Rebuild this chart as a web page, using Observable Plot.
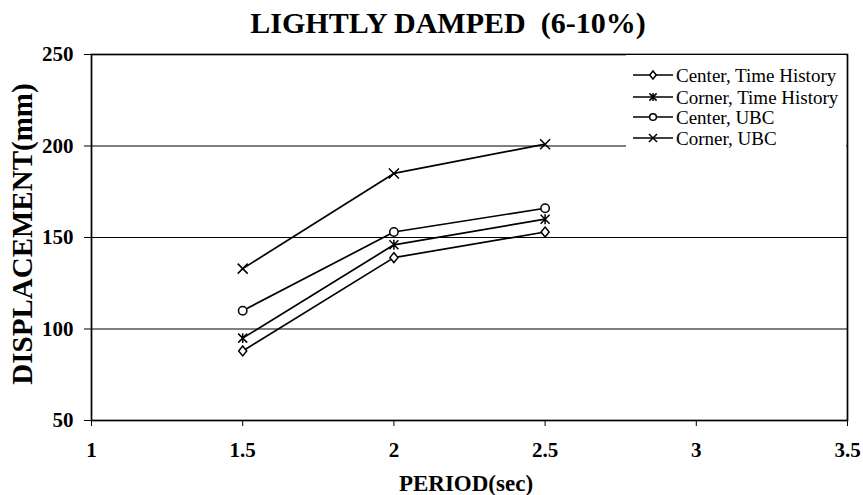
<!DOCTYPE html>
<html><head><meta charset="utf-8">
<script src="https://cdn.jsdelivr.net/npm/d3@7"></script>
<script src="https://cdn.jsdelivr.net/npm/@observablehq/plot@0.6"></script>
<style>body{margin:0;background:#fff} #chart{width:863px;height:495px}</style>
</head><body><div id="chart"></div>
<script>
// ---- data ----
const periods = [1.5, 2, 2.5];
const seriesNames = ["Center, Time History", "Corner, Time History", "Center, UBC", "Corner, UBC"];
const centerTimeHistory = [88, 139, 153];
const cornerTimeHistory = [95, 146, 160];
const centerUBC = [110, 153, 166];
const cornerUBC = [133, 185, 201];
const xTicks = [1, 1.5, 2, 2.5, 3, 3.5];
const yTicks = [50, 100, 150, 200, 250];
const gridValues = [100, 150, 200];
const titleText = "LIGHTLY DAMPED  (6-10%)";
const xLabel = "PERIOD(sec)";
const yLabel = "DISPLACEMENT(mm)";

const seriesValues = [centerTimeHistory, cornerTimeHistory, centerUBC, cornerUBC];
const data = [];
seriesNames.forEach((name, i) => periods.forEach((p, j) => data.push({series: name, period: p, value: seriesValues[i][j]})));

// ---- custom Excel-like symbols ----
const rad = s => Math.sqrt(s / Math.PI);
const symDiamond = {draw(c, s) { const r = rad(s); c.moveTo(0, -r * 1.1); c.lineTo(r * 0.9, 0); c.lineTo(0, r * 1.1); c.lineTo(-r * 0.9, 0); c.closePath(); }};
const symStar = {draw(c, s) { const r = rad(s); c.moveTo(-r, -r); c.lineTo(r, r); c.moveTo(-r, r); c.lineTo(r, -r); c.moveTo(0, -r * 1.1); c.lineTo(0, r * 1.1); }};
const symCircle = {draw(c, s) { const r = rad(s); c.moveTo(r, 0); c.arc(0, 0, r, 0, 2 * Math.PI); c.closePath(); }};
const symX = {draw(c, s) { const r = rad(s); c.moveTo(-r, -r); c.lineTo(r, r); c.moveTo(-r, r); c.lineTo(r, -r); }};
const symbols = [symDiamond, symStar, symCircle, symX];
const radii = [4.5, 4.5, 4.2, 5];

const serif = "'Liberation Serif', 'Times New Roman', serif";

const plot = Plot.plot({
  width: 863, height: 495,
  marginLeft: 91, marginRight: 16, marginTop: 54, marginBottom: 75,
  style: {fontFamily: serif, fontSize: "21px", fontWeight: "bold", color: "#000", background: "#fff", overflow: "visible"},
  x: {domain: [1, 3.5], ticks: xTicks, tickSize: 6, tickPadding: 16, label: null, tickFormat: d => String(d)},
  y: {domain: [50, 250], ticks: yTicks, tickSize: 7, tickPadding: 11, label: null},
  marks: [
    Plot.ruleY(gridValues, {stroke: "#000", strokeWidth: 1}),
    Plot.lineY(data, {x: "period", y: "value", z: "series", stroke: "#000", strokeWidth: 1.7}),
    ...seriesNames.map((name, i) => Plot.dot(data.filter(d => d.series === name), {
      x: "period", y: "value", symbol: () => symbols[i], r: radii[i], fill: "white", stroke: "#000", strokeWidth: 1.5
    })),
    Plot.frame({stroke: "#000", strokeWidth: 1.7})
  ]
});
document.getElementById("chart").appendChild(plot);

// ---- titles, labels, legend ----
const svg = d3.select(plot);
svg.append("text").attr("x", 448).attr("y", 33).attr("text-anchor", "middle")
  .attr("font-family", serif).attr("font-size", 30).attr("font-weight", "bold").text(titleText);
svg.append("text").attr("x", 466).attr("y", 491).attr("text-anchor", "middle")
  .attr("font-family", serif).attr("font-size", 23).attr("font-weight", "bold").text(xLabel);
svg.append("text").attr("transform", "translate(32,234) rotate(-90)").attr("text-anchor", "middle")
  .attr("font-family", serif).attr("font-size", 29).attr("font-weight", "bold").text(yLabel);

const lg = svg.append("g");
lg.append("rect").attr("x", 626).attr("y", 55).attr("width", 220).attr("height", 105).attr("fill", "#fff");
const rows = [75, 97, 117, 138];
seriesNames.forEach((name, i) => {
  const y = rows[i];
  lg.append("line").attr("x1", 633).attr("x2", 673).attr("y1", y).attr("y2", y).attr("stroke", "#000").attr("stroke-width", 1.7);
  lg.append("path").attr("transform", `translate(653,${y})`)
    .attr("d", d3.symbol().type(symbols[i]).size(Math.PI * Math.pow(radii[i] * 0.8, 2))())
    .attr("fill", "#fff").attr("stroke", "#000").attr("stroke-width", 1.5);
  lg.append("text").attr("x", 676).attr("y", y).attr("dy", "0.35em").attr("text-anchor", "start")
    .attr("font-family", serif).attr("font-size", 19).attr("font-weight", "normal").text(name);
});
</script>
</body></html>
